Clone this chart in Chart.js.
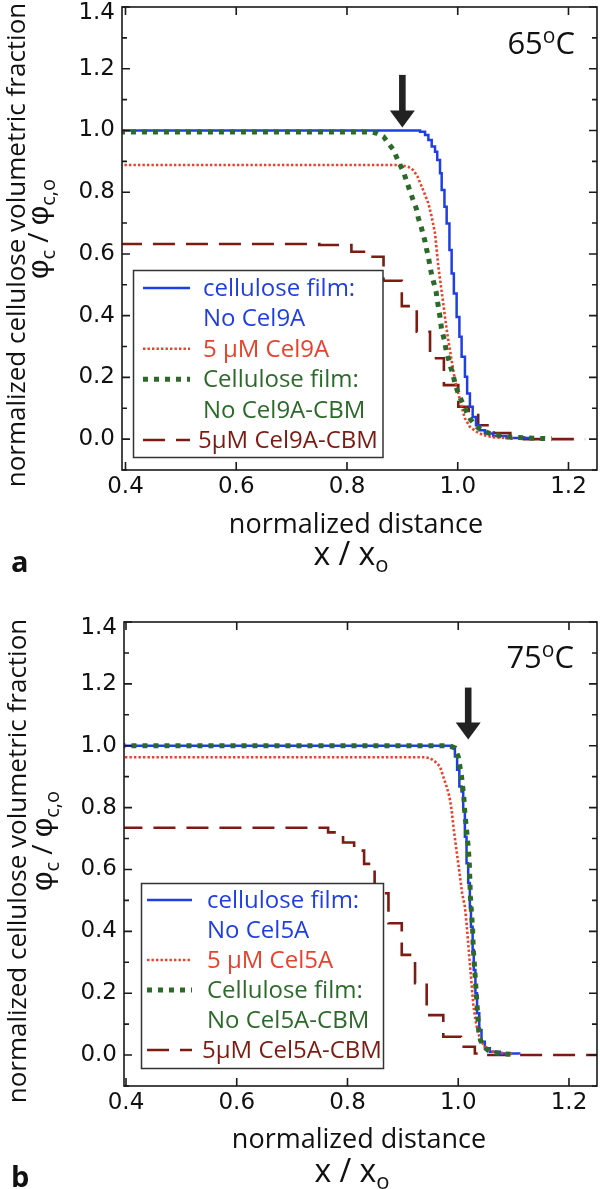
<!DOCTYPE html>
<html>
<head>
<meta charset="utf-8">
<script src="https://cdn.jsdelivr.net/npm/chart.js@4.4.1/dist/chart.umd.min.js"></script>
<style>
  html, body { margin: 0; padding: 0; background: #fff; }
  canvas { display: block; }
</style>
</head>
<body>
<canvas id="panelA" width="600" height="594"></canvas>
<canvas id="panelB" width="600" height="595"></canvas>
<script>
// tick labels
const xTickValues = [0.4, 0.6, 0.8, 1.0, 1.2];
const yTickValues = [0.0, 0.2, 0.4, 0.6, 0.8, 1.0, 1.2, 1.4];

// panel a (65 oC, Cel9A) - [x/xo, phi_c/phi_c,o]
const a_film = [[0.39,1.0],[0.923,1.0],[0.932,0.996],[0.941,0.985],[0.947,0.969],[0.953,0.948],[0.959,0.931],[0.963,0.904],[0.968,0.861],[0.971,0.807],[0.976,0.753],[0.98,0.699],[0.985,0.613],[0.989,0.537],[0.993,0.472],[0.998,0.396],[1.003,0.332],[1.007,0.267],[1.013,0.202],[1.017,0.148],[1.022,0.105],[1.027,0.072],[1.033,0.045],[1.04,0.029],[1.049,0.018],[1.064,0.01],[1.088,0.004],[1.135,0.002]];
const a_enzyme = [[0.39,0.888],[0.897,0.888],[0.911,0.882],[0.92,0.871],[0.927,0.852],[0.935,0.818],[0.941,0.791],[0.947,0.764],[0.953,0.72],[0.959,0.667],[0.962,0.613],[0.965,0.558],[0.969,0.505],[0.973,0.451],[0.977,0.396],[0.981,0.343],[0.986,0.288],[0.991,0.234],[0.995,0.191],[1.001,0.148],[1.007,0.105],[1.013,0.067],[1.022,0.04],[1.034,0.024],[1.046,0.013],[1.064,0.006],[1.1,0.002]];
const a_filmCBM = [[0.39,0.995],[0.845,0.995],[0.854,0.991],[0.866,0.98],[0.875,0.958],[0.884,0.937],[0.893,0.899],[0.902,0.866],[0.909,0.829],[0.914,0.802],[0.919,0.777],[0.925,0.748],[0.929,0.715],[0.933,0.694],[0.937,0.667],[0.941,0.64],[0.944,0.613],[0.947,0.591],[0.95,0.558],[0.953,0.532],[0.957,0.505],[0.961,0.477],[0.963,0.451],[0.968,0.396],[0.971,0.353],[0.976,0.321],[0.979,0.288],[0.983,0.262],[0.987,0.234],[0.991,0.213],[0.995,0.181],[1.001,0.148],[1.009,0.116],[1.016,0.088],[1.022,0.067],[1.031,0.045],[1.043,0.029],[1.058,0.018],[1.076,0.012],[1.097,0.006],[1.17,0.001]];
const a_enzymeCBM = [[0.39,0.632],[0.75,0.629],[0.808,0.607],[0.84,0.591],[0.866,0.513],[0.899,0.431],[0.926,0.348],[0.95,0.262],[0.975,0.175],[1.001,0.105],[1.02,0.078],[1.037,0.045],[1.065,0.02],[1.095,0.005],[1.12,0.0],[1.23,0.0]];

// panel b (75 oC, Cel5A)
const b_film = [[0.39,1.0],[0.979,1.0],[0.988,0.993],[0.994,0.965],[0.998,0.922],[1.002,0.868],[1.006,0.852],[1.009,0.793],[1.012,0.706],[1.015,0.62],[1.018,0.556],[1.021,0.48],[1.023,0.415],[1.026,0.34],[1.028,0.275],[1.031,0.2],[1.034,0.135],[1.038,0.081],[1.042,0.043],[1.048,0.022],[1.057,0.011],[1.075,0.005],[1.11,0.002]];
const b_enzyme = [[0.39,0.963],[0.937,0.963],[0.949,0.96],[0.958,0.949],[0.967,0.933],[0.973,0.9],[0.979,0.868],[0.984,0.836],[0.988,0.793],[0.992,0.728],[0.996,0.674],[1.0,0.62],[1.004,0.566],[1.007,0.523],[1.012,0.48],[1.015,0.426],[1.018,0.361],[1.021,0.297],[1.024,0.232],[1.027,0.167],[1.031,0.113],[1.036,0.07],[1.042,0.043],[1.05,0.022],[1.063,0.011],[1.087,0.005],[1.1,0.003]];
const b_filmCBM = [[0.39,1.0],[0.985,1.0],[0.994,0.993],[1.0,0.965],[1.003,0.933],[1.006,0.9],[1.008,0.868],[1.01,0.836],[1.012,0.782],[1.015,0.728],[1.018,0.674],[1.02,0.62],[1.021,0.566],[1.022,0.512],[1.024,0.459],[1.026,0.405],[1.027,0.35],[1.029,0.297],[1.031,0.243],[1.033,0.189],[1.035,0.135],[1.037,0.081],[1.04,0.049],[1.046,0.027],[1.057,0.011],[1.075,0.005],[1.1,0.002]];
const b_enzymeCBM = [[0.39,0.735],[0.765,0.72],[0.792,0.687],[0.812,0.661],[0.83,0.618],[0.849,0.523],[0.874,0.426],[0.898,0.324],[0.922,0.232],[0.943,0.129],[0.973,0.059],[1.005,0.027],[1.03,0.005],[1.05,0.0],[1.26,0.0]];

const TEXT_FONT = '"Open Sans", "Noto Sans", sans-serif';
const TICK_FONT = '"DejaVu Sans", sans-serif';
const PHI_FONT = '"Liberation Sans", Arial, sans-serif';

const seriesStyle = [
  { borderColor: '#1f3fe3', borderWidth: 2.5, stepped: true, order: 2 },
  { borderColor: '#e8412c', borderWidth: 2.6, borderDash: [2.4, 2.1], order: 1 },
  { borderColor: '#2c6a2a', borderWidth: 5, borderDash: [5, 6], order: 0 },
  { borderColor: '#7b1b12', borderWidth: 2.6, borderDash: [22, 11], stepped: true, order: 3 },
];

const toXY = arr => arr.map(([x, y]) => ({ x, y }));

// draw a row of text pieces (sub/superscripts) from x, or centred / right-aligned on x
function drawRuns(ctx, runs, x, y, align) {
  const fontOf = r => (r.bold ? 'bold ' : '') + r.size + 'px ' + (r.family || TEXT_FONT);
  let total = 0;
  runs.forEach(r => { ctx.font = fontOf(r); total += ctx.measureText(r.t).width; });
  let cx = align === 'center' ? x - total / 2 : align === 'right' ? x - total : x;
  ctx.textAlign = 'left';
  ctx.textBaseline = 'alphabetic';
  runs.forEach(r => {
    ctx.font = fontOf(r);
    ctx.fillText(r.t, cx, y + (r.dy || 0));
    cx += ctx.measureText(r.t).width;
  });
}

const panelDecor = {
  id: 'panelDecor',
  afterDraw(chart, args, p) {
    const { ctx, chartArea: ca } = chart;
    const xs = chart.scales.x, ys = chart.scales.y;
    const ds = chart.data.datasets;
    ctx.save();

    // legend box
    const L = p.legend;
    ctx.fillStyle = '#fff';
    ctx.fillRect(L.x, L.y, L.w, L.h);
    ctx.strokeStyle = '#333';
    ctx.lineWidth = 1.5;
    ctx.strokeRect(L.x, L.y, L.w, L.h);
    let row = 0;
    p.labels.forEach((lines, i) => {
      const d = ds[i];
      const base = L.base + row * L.step;
      ctx.beginPath();
      ctx.strokeStyle = d.borderColor;
      ctx.lineWidth = d.borderWidth;
      ctx.setLineDash(d.borderDash || []);
      ctx.moveTo(L.sx0, base - 8);
      ctx.lineTo(L.sx1, base - 8);
      ctx.stroke();
      ctx.setLineDash([]);
      ctx.fillStyle = d.borderColor;
      lines.forEach(t => {
        const tx = t.startsWith('5\u00b5M') ? L.tx - 5 : L.tx;
        drawRuns(ctx, [{ t, size: 24 }], tx, L.base + row * L.step, 'left');
        row++;
      });
    });

    // frame and inward ticks
    ctx.strokeStyle = '#1a1a1a';
    ctx.lineWidth = 1.6;
    ctx.strokeRect(ca.left, ca.top, ca.right - ca.left, ca.bottom - ca.top);
    ctx.beginPath();
    xTickValues.forEach(v => {
      const px = xs.getPixelForValue(v);
      ctx.moveTo(px, ca.bottom); ctx.lineTo(px, ca.bottom - 8);
      ctx.moveTo(px, ca.top); ctx.lineTo(px, ca.top + 8);
    });
    for (let k = -1; k <= 14; k++) {
      const py = ys.getPixelForValue(k / 10);
      const len = k % 2 === 0 ? 8 : 5;
      ctx.moveTo(ca.left, py); ctx.lineTo(ca.left + len, py);
      ctx.moveTo(ca.right, py); ctx.lineTo(ca.right - len, py);
    }
    ctx.stroke();

    // arrow marking the interface
    const ax = xs.getPixelForValue(p.arrow.x);
    const aTop = ys.getPixelForValue(p.arrow.top);
    const aTip = ys.getPixelForValue(p.arrow.tip);
    ctx.fillStyle = '#222';
    ctx.fillRect(ax - 3.3, aTop, 6.6, aTip - aTop - 15);
    ctx.beginPath();
    ctx.moveTo(ax - 12.5, aTip - 17);
    ctx.lineTo(ax + 12.5, aTip - 17);
    ctx.lineTo(ax, aTip);
    ctx.closePath();
    ctx.fill();

    // temperature
    ctx.fillStyle = '#111';
    drawRuns(ctx, [{ t: p.temp.t, size: 31 }, { t: 'o', size: 21, dy: -11 }, { t: 'C', size: 31 }], p.temp.x, p.temp.y, 'right');

    // axis titles
    drawRuns(ctx, [{ t: 'normalized distance', size: 27 }], p.xt.x, p.xt.y1, 'center');
    drawRuns(ctx, [{ t: 'x / x', size: 32 }, { t: 'o', size: 22, dy: 7 }], p.xt.x2, p.xt.y2, 'center');

    ctx.save();
    ctx.translate(p.yt.x1, p.yt.c1);
    ctx.rotate(-Math.PI / 2);
    drawRuns(ctx, [{ t: 'normalized cellulose volumetric fraction', size: 26 }], 0, 0, 'center');
    ctx.restore();
    ctx.save();
    ctx.translate(p.yt.x2, p.yt.c2);
    ctx.rotate(-Math.PI / 2);
    drawRuns(ctx, [
      { t: '\u03c6', size: 30, family: PHI_FONT }, { t: 'c', size: 20, dy: 7 }, { t: ' / ', size: 28 },
      { t: '\u03c6', size: 30, family: PHI_FONT }, { t: 'c,o', size: 20, dy: 7 }
    ], 0, 0, 'center');
    ctx.restore();

    // panel letter
    drawRuns(ctx, [{ t: p.letter.t, size: 29, bold: true }], p.letter.x, p.letter.y, 'left');
    ctx.restore();
  }
};

function buildChart(id, series, p) {
  const canvas = document.getElementById(id);
  const top = yTickValues[yTickValues.length - 1];
  return new Chart(canvas, {
    type: 'line',
    data: {
      datasets: series.map((s, i) => Object.assign({
        data: toXY(s),
        pointRadius: 0,
        fill: false,
        tension: 0,
        borderCapStyle: 'butt',
      }, seriesStyle[i])),
    },
    options: {
      responsive: false,
      animation: false,
      devicePixelRatio: 1,
      layout: { padding: { top: p.top, right: canvas.width - p.right, left: 0, bottom: 0 } },
      plugins: { legend: { display: false }, tooltip: { enabled: false }, panelDecor: p },
      scales: {
        x: {
          type: 'linear',
          min: p.xMin,
          max: p.xMax,
          afterBuildTicks: s => { s.ticks = xTickValues.map(v => ({ value: v })); },
          afterFit: s => { s.height = canvas.height - p.bottom; s.paddingLeft = 0; s.paddingRight = 0; },
          ticks: {
            callback: v => v.toFixed(1),
            font: { family: TICK_FONT, size: 23 },
            color: '#111',
            padding: 3,
            maxRotation: 0,
            autoSkip: false,
          },
          grid: { display: false, drawTicks: false },
          border: { display: false },
        },
        y: {
          type: 'linear',
          min: -0.1,
          max: 1.4,
          afterBuildTicks: s => { s.ticks = yTickValues.map(v => ({ value: v })); },
          afterFit: s => { s.width = p.left; s.paddingTop = 0; s.paddingBottom = 0; },
          ticks: {
            // the top label sits a little below its tick, as in the original
            callback: v => (v === top ? ['', v.toFixed(1)] : v.toFixed(1)),
            font: c => ({ family: TICK_FONT, size: 23, lineHeight: c.tick && c.tick.value === top ? 0.55 : 1.2 }),
            color: '#111',
            padding: 7,
            autoSkip: false,
          },
          grid: { display: false, drawTicks: false },
          border: { display: false },
        },
      },
    },
    plugins: [panelDecor],
  });
}

buildChart('panelA', [a_film, a_enzyme, a_filmCBM, a_enzymeCBM], {
  top: 7, bottom: 470, left: 122, right: 597, xMin: 0.3937, xMax: 1.2515,
  legend: { x: 133.5, y: 270.5, w: 249.5, h: 187, sx0: 143, sx1: 190, tx: 203, base: 296, step: 30.4 },
  labels: [['cellulose film:', 'No Cel9A'], ['5 \u00b5M Cel9A'], ['Cellulose film:', 'No Cel9A-CBM'], ['5\u00b5M Cel9A-CBM']],
  arrow: { x: 0.9, top: 1.18, tip: 1.01 },
  temp: { t: '65', x: 575, y: 53.5 },
  xt: { x: 356, y1: 533, x2: 351, y2: 565 },
  yt: { x1: 25, c1: 245, x2: 48, c2: 229 },
  letter: { t: 'a', x: 11, y: 572 },
});

buildChart('panelB', [b_film, b_enzyme, b_filmCBM, b_enzymeCBM], {
  top: 28, bottom: 492, left: 124, right: 597, xMin: 0.3964, xMax: 1.2506,
  legend: { x: 141.5, y: 289.5, w: 242, h: 185, sx0: 147, sx1: 192, tx: 207, base: 314, step: 30 },
  labels: [['cellulose film:', 'No Cel5A'], ['5 \u00b5M Cel5A'], ['Cellulose film:', 'No Cel5A-CBM'], ['5\u00b5M Cel5A-CBM']],
  arrow: { x: 1.018, top: 1.188, tip: 1.02 },
  temp: { t: '75', x: 574, y: 74 },
  xt: { x: 359, y1: 554, x2: 352, y2: 588 },
  yt: { x1: 26, c1: 267, x2: 52, c2: 247 },
  letter: { t: 'b', x: 11, y: 593 },
});
</script>
</body>
</html>
